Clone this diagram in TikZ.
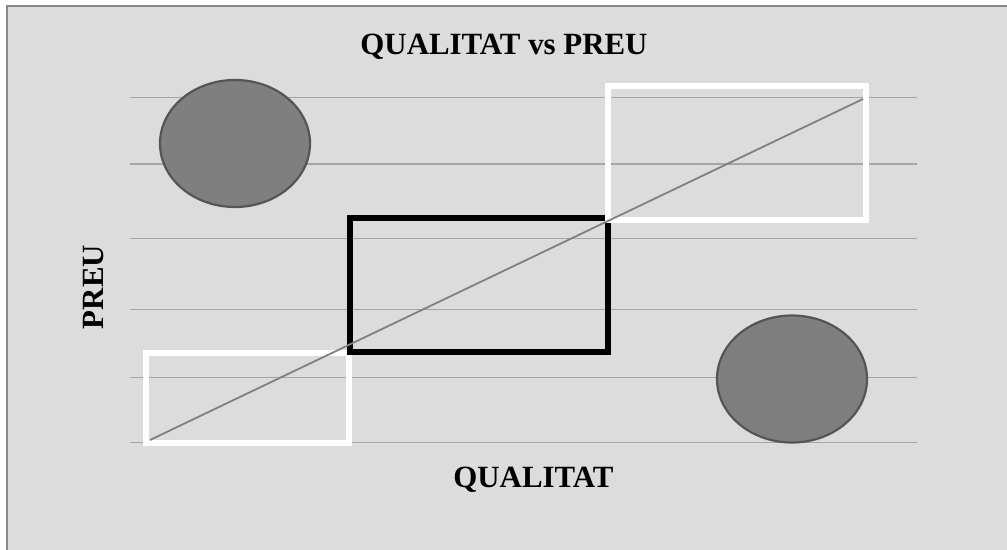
\documentclass[tikz,border=0pt]{standalone}
\usepackage{fontspec}
\setmainfont{Liberation Serif}
\usetikzlibrary{shapes.geometric}
\definecolor{panel}{RGB}{220,220,220}
\definecolor{framegray}{RGB}{136,136,136}
\definecolor{gridgray}{RGB}{165,165,165}
\definecolor{diaggray}{RGB}{128,128,128}
\definecolor{blobfill}{RGB}{127,127,127}
\definecolor{blobedge}{RGB}{85,85,85}
\tikzset{
  gridline/.style={draw=gridgray, line width=1.3bp},
  blob/.style={ellipse, fill=blobfill, draw=blobedge, line width=2.2bp,
    minimum width=150bp, minimum height=127bp, inner sep=0pt, outer sep=0pt},
  zonebox/.style={rectangle, line width=6bp, inner sep=0pt, outer sep=0pt},
  bigzone/.style={zonebox, minimum width=258bp, minimum height=133.5bp},
  smallzone/.style={zonebox, minimum width=203.5bp, minimum height=90bp},
  trend/.style={draw=diaggray, line width=1.8bp},
  heading/.style={font=\bfseries\fontsize{31}{36}\selectfont, inner sep=0pt},
}
\begin{document}
\begin{tikzpicture}[x=1bp, y=-1bp]
  \useasboundingbox (0,0) rectangle (1007,550);
  % chart panel
  \fill[panel] (7,6) rectangle (1007,550);
  \draw[framegray, line width=2bp] (7,550) -- (7,6) -- (1007,6);

  % horizontal grid lines
  \foreach \yy in {97.5,164,238.5,309.5,377.5,442.5}
    \draw[gridline] (130,\yy) -- (917,\yy);

  % outlier points
  \node[blob] (hiprice) at (235,143.5) {};
  \node[blob] (loprice) at (792,379) {};

  % zones along the diagonal
  \node[smallzone, draw=white] (lowzone) at (247.25,398) {};
  \node[bigzone, draw=black] (midzone) at (479,284.75) {};
  \node[bigzone, draw=white] (topzone) at (737,153.25) {};

  % quality/price diagonal
  \coordinate (lo) at (150,440);
  \coordinate (hi) at (863,99);
  \draw[trend] (lo) -- (hi);

  % titles
  \node[heading, anchor=base] (title) at (504,55) {QUALITAT vs PREU};
  \node[heading, anchor=base] (xlab) at (533.5,487) {QUALITAT};
  \node[heading, anchor=base, rotate=90] (ylab) at (103,287) {PREU};
\end{tikzpicture}
\end{document}
